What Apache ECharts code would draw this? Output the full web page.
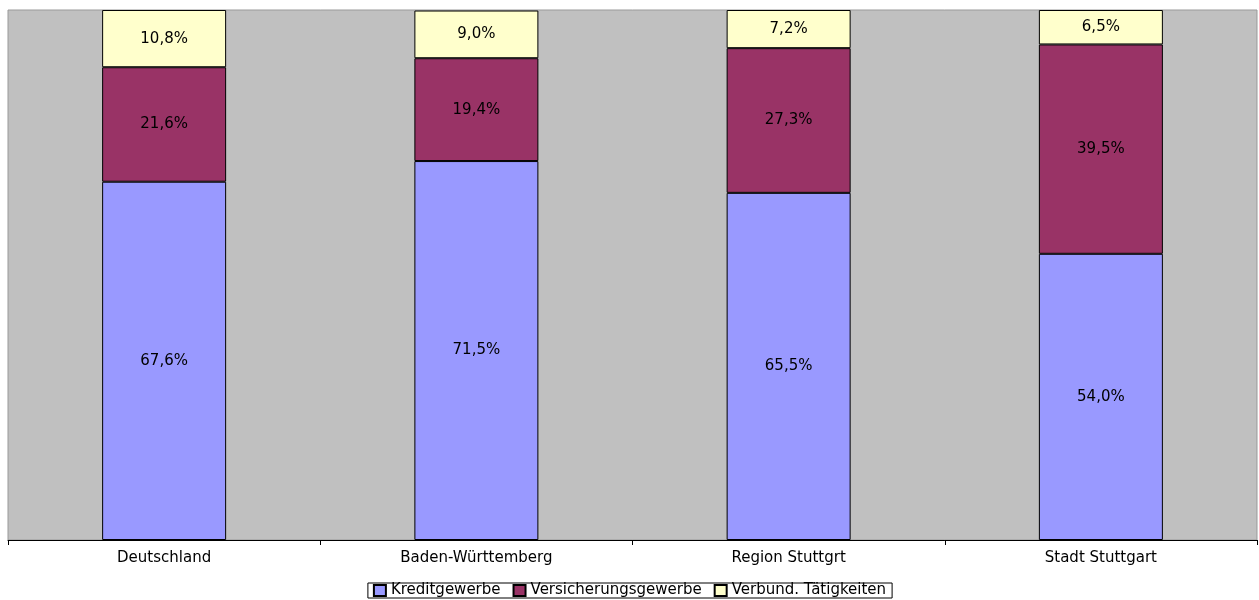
<!DOCTYPE html>
<html>
<head>
<meta charset="utf-8">
<script src="https://cdn.jsdelivr.net/npm/echarts@6/dist/echarts.min.js"></script>
<style>
  html, body { margin: 0; padding: 0; background: #fff; }
  #main { width: 1259px; height: 600px; }
</style>
</head>
<body>
<div id="main"></div>
<script>
var regions = ['Deutschland', 'Baden-Württemberg', 'Region Stuttgrt', 'Stadt Stuttgart']
var kredit = [67.6, 71.5, 65.5, 54.0]
var versicherung = [21.6, 19.4, 27.3, 39.5]
var verbund = [10.8, 9.0, 7.2, 6.5]

var FONT = 'DejaVu Sans, Verdana, sans-serif'

function pct (p) {
  return p.value.toFixed(1).replace('.', ',') + '%'
}

function layer (name, data, color) {
  return {
    name: name,
    type: 'bar',
    stack: 'total',
    barWidth: 124,
    data: data,
    itemStyle: { color: color, borderColor: '#000', borderWidth: 1 },
    label: {
      show: true,
      position: 'inside',
      formatter: pct,
      color: '#000',
      fontFamily: FONT,
      fontSize: 15
    },
    emphasis: { disabled: true }
  }
}

var myChart = echarts.init(document.getElementById('main'))
myChart.setOption({
  animation: false,
  grid: {
    left: 8, right: 2, top: 10, bottom: 60,
    show: true,
    backgroundColor: '#C0C0C0',
    borderColor: '#999',
    borderWidth: 1
  },
  legend: {
    bottom: 2,
    left: 'center',
    itemWidth: 12,
    itemHeight: 11,
    itemGap: 12,
    icon: 'rect',
    borderColor: '#000',
    borderWidth: 1,
    padding: [0, 6, 0, 5],
    textStyle: { fontFamily: FONT, fontSize: 15, color: '#000' },
    data: ['Kreditgewerbe', 'Versicherungsgewerbe', 'Verbund. Tätigkeiten']
  },
  xAxis: {
    type: 'category',
    data: regions,
    axisLine: { lineStyle: { color: '#000', width: 1 } },
    axisTick: { show: true, length: 5, lineStyle: { color: '#000' } },
    axisLabel: {
      margin: 11,
      color: '#000',
      fontFamily: FONT,
      fontSize: 15
    }
  },
  yAxis: {
    type: 'value',
    min: 0,
    max: 100,
    show: false
  },
  series: [
    layer('Kreditgewerbe', kredit, '#9999FF'),
    layer('Versicherungsgewerbe', versicherung, '#993366'),
    layer('Verbund. Tätigkeiten', verbund, '#FFFFCC')
  ]
})
</script>
</body>
</html>
